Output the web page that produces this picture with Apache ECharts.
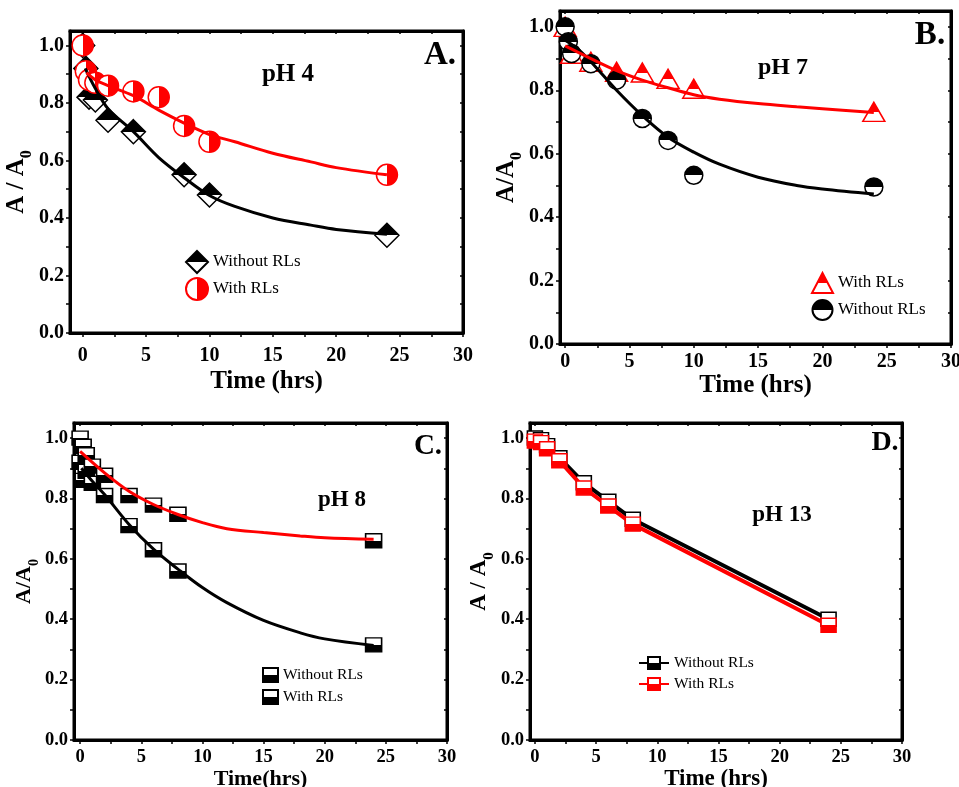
<!DOCTYPE html>
<html><head><meta charset="utf-8">
<script src="https://cdn.jsdelivr.net/npm/echarts@6/dist/echarts.min.js"></script>
<style>html,body{margin:0;padding:0;background:#fff}#c{width:959px;height:787px}</style>
</head><body><div id="c"></div>
<script>
// ---------------- DATA ----------------
const xTickLabels = [0, 5, 10, 15, 20, 25, 30];
const xTickMarks = [0, 2.5, 5, 7.5, 10, 12.5, 15, 17.5, 20, 22.5, 25, 27.5, 30];
const yTickLabels = [0, 0.2, 0.4, 0.6, 0.8, 1.0];
const yTickMarks = [0, 0.1, 0.2, 0.3, 0.4, 0.5, 0.6, 0.7, 0.8, 0.9, 1.0];

// Panel A (pH 4)
const aWithoutT = [0, 0.25, 0.5, 1, 2, 4, 8, 10, 24];
const aWithoutV = [1.0, 0.92, 0.82, 0.81, 0.74, 0.70, 0.55, 0.48, 0.34];
const aWithT = [0, 0.25, 0.5, 1, 2, 4, 6, 8, 10, 24];
const aWithV = [1.0, 0.91, 0.88, 0.87, 0.86, 0.84, 0.82, 0.72, 0.665, 0.55];
const aFitWithoutT = [0.2, 1, 2, 4, 6, 8, 10, 12, 15, 18, 20, 24];
const aFitWithoutV = [0.92, 0.85, 0.78, 0.70, 0.61, 0.54, 0.478, 0.44, 0.40, 0.375, 0.36, 0.343];
const aFitWithT = [0.3, 1, 2, 4, 6, 8, 10, 12, 15, 18, 20, 24];
const aFitWithV = [0.905, 0.88, 0.86, 0.825, 0.775, 0.73, 0.69, 0.665, 0.625, 0.595, 0.575, 0.55];

// Panel B (pH 7)
const bWithT = [0, 0.5, 2, 4, 6, 8, 10, 24];
const bWithV = [1.0, 0.915, 0.89, 0.858, 0.856, 0.836, 0.805, 0.732];
const bWithoutT = [0, 0.25, 0.5, 2, 4, 6, 8, 10, 24];
const bWithoutV = [1.0, 0.953, 0.916, 0.884, 0.832, 0.711, 0.642, 0.532, 0.495];
const bFitWithT = [0, 2, 4, 6, 8, 10, 12, 15, 18, 20, 24];
const bFitWithV = [0.94, 0.90, 0.862, 0.832, 0.808, 0.786, 0.772, 0.758, 0.748, 0.742, 0.73];
const bFitWithoutT = [0, 1, 2, 4, 6, 8, 10, 12, 15, 18, 20, 24];
const bFitWithoutV = [0.958, 0.93, 0.89, 0.80, 0.72, 0.652, 0.605, 0.567, 0.526, 0.50, 0.489, 0.473];

// Panel C (pH 8)
const cWithoutT = [0, 0.25, 0.5, 1, 2, 4, 6, 8, 24];
const cWithoutV = [0.92, 0.86, 0.89, 0.85, 0.81, 0.71, 0.63, 0.56, 0.315];
const cWithT = [0, 0.25, 0.5, 1, 2, 4, 6, 8, 24];
const cWithV = [1.0, 0.973, 0.945, 0.907, 0.877, 0.81, 0.778, 0.748, 0.66];
const cFitWithT = [0, 2, 4, 6, 8, 10, 12, 15, 18, 20, 24];
const cFitWithV = [0.956, 0.885, 0.824, 0.78, 0.747, 0.72, 0.70, 0.687, 0.676, 0.67, 0.665];
const cFitWithoutT = [0.1, 1, 2, 4, 6, 8, 10, 12, 15, 18, 20, 24];
const cFitWithoutV = [0.90, 0.857, 0.813, 0.714, 0.632, 0.566, 0.505, 0.455, 0.396, 0.355, 0.335, 0.313];

// Panel D (pH 13)
const dWithoutT = [0, 0.5, 1, 2, 4, 6, 8, 24];
const dWithoutV = [1.0, 0.995, 0.975, 0.935, 0.852, 0.791, 0.731, 0.40];
const dWithT = [0, 0.5, 1, 2, 4, 6, 8, 24];
const dWithV = [0.99, 0.985, 0.965, 0.925, 0.835, 0.775, 0.715, 0.38];

// ---------------- HELPERS ----------------
const FONT = 'Liberation Serif';
const RED = '#ff0000', BLACK = '#000000';
function pairs(t, v) { return t.map((x, i) => [x, v[i]]); }
function halfFill(vertical, c1, c2) {
  return { type: 'linear', x: 0, y: 0, x2: vertical ? 0 : 1, y2: vertical ? 1 : 0,
    colorStops: [{offset: 0, color: c1}, {offset: 0.5, color: c1}, {offset: 0.5, color: c2}, {offset: 1, color: c2}] };
}
const stripName = n => n.split('|')[1];

const grids = [], xAxes = [], yAxes = [], series = [], legends = [], graphics = [];

function addPanel(p) {
  const gi = grids.length;
  grids.push(Object.assign({ show: true, borderColor: '#000', borderWidth: 3, outerBoundsMode: 'none', containLabel: false }, p.grid));
  const lab = { fontFamily: FONT, fontWeight: 'bold', fontSize: p.tickFont, color: '#000' };
  xAxes.push({
    gridIndex: gi, type: 'value', min: p.xMin, max: 30, position: 'bottom',
    name: p.xName, nameLocation: 'middle', nameGap: p.xGap,
    nameTextStyle: { fontFamily: FONT, fontWeight: 'bold', fontSize: p.nameFont, color: '#000' },
    axisLine: { show: true, onZero: false, lineStyle: { color: '#000', width: 3 } },
    axisTick: { show: true, length: 4, customValues: xTickMarks, lineStyle: { width: 1.5, color: '#000' } },
    axisLabel: Object.assign({ customValues: xTickLabels, margin: p.xMargin }, lab),
    splitLine: { show: false }
  });
  xAxes.push({
    gridIndex: gi, type: 'value', min: p.xMin, max: 30, position: 'top',
    axisLine: { show: true, onZero: false, lineStyle: { color: '#000', width: 3 } },
    axisTick: { show: true, inside: true, length: 3, customValues: xTickMarks, lineStyle: { width: 1.5, color: '#000' } },
    axisLabel: { show: false }, splitLine: { show: false }
  });
  yAxes.push({
    gridIndex: gi, type: 'value', min: 0, max: 1.05, position: 'left',
    name: p.yName, nameLocation: 'middle', nameGap: p.yGap, nameRotate: 90,
    nameTextStyle: { fontFamily: FONT, fontWeight: 'bold', fontSize: p.nameFont, color: '#000',
      rich: { sub: { fontFamily: FONT, fontWeight: 'bold', fontSize: Math.round(p.nameFont * 0.65), verticalAlign: 'bottom', padding: [0, 0, -6, 0], color: '#000' } } },
    axisLine: { show: true, onZero: false, lineStyle: { color: '#000', width: 3 } },
    axisTick: { show: true, length: 4, customValues: yTickMarks, lineStyle: { width: 1.5, color: '#000' } },
    axisLabel: Object.assign({ customValues: yTickLabels, margin: 6, formatter: v => v.toFixed(1) }, lab),
    splitLine: { show: false }
  });
  yAxes.push({
    gridIndex: gi, type: 'value', min: 0, max: 1.05, position: 'right',
    axisLine: { show: true, onZero: false, lineStyle: { color: '#000', width: 3 } },
    axisTick: { show: true, inside: true, length: 3, customValues: yTickMarks, lineStyle: { width: 1.5, color: '#000' } },
    axisLabel: { show: false }, splitLine: { show: false }
  });
  const xi = gi * 2, yi = gi * 2;
  p.series.forEach(s => {
    s.xAxisIndex = xi; s.yAxisIndex = yi;
    series.push(s);
  });
  legends.push(Object.assign({
    orient: 'vertical', selectedMode: false, formatter: stripName,
    textStyle: { fontFamily: FONT, fontSize: p.legendFont, color: '#000', lineHeight: p.legendFont }
  }, p.legend));
  graphics.push({ type: 'text', x: p.ph[1], y: p.ph[2],
    style: { text: p.ph[0], font: 'bold ' + p.phFont + 'px "' + FONT + '"', fill: '#000', align: 'center', verticalAlign: 'middle', textAlign: 'center', textVerticalAlign: 'middle' } });
  graphics.push({ type: 'text', x: p.letter[1], y: p.letter[2],
    style: { text: p.letter[0], font: 'bold ' + p.letterFont + 'px "' + FONT + '"', fill: '#000', align: 'center', verticalAlign: 'middle', textAlign: 'center', textVerticalAlign: 'middle' } });
}

function scatter(name, t, v, symbol, size, fill, border, z) {
  return { name, type: 'scatter', data: pairs(t, v), symbol, symbolSize: size, z: z || 3,
    itemStyle: { color: fill, borderColor: border, borderWidth: 1.5, opacity: 1 }, emphasis: { disabled: true } };
}
function fit(name, t, v, color, z) {
  return { name, type: 'line', data: pairs(t, v), smooth: 0.35, showSymbol: false, symbol: 'none', z: z || 4,
    lineStyle: { color, width: 3 }, itemStyle: { color }, emphasis: { disabled: true } };
}

// Panel A
addPanel({
  grid: { left: 70, top: 31, width: 393, height: 302 }, xMin: -1,
  tickFont: 20, nameFont: 25, xName: 'Time (hrs)', yName: 'A / A{sub|0}', xGap: 36, yGap: 36, xMargin: 13,
  series: [
    scatter('A|Without RLs', aWithoutT, aWithoutV, 'diamond', [24, 24], halfFill(true, BLACK, '#fff'), BLACK, 3),
    scatter('A|With RLs', aWithT, aWithV, 'circle', 21, halfFill(false, '#fff', RED), RED, 4),
    fit('A|fit without', aFitWithoutT, aFitWithoutV, BLACK, 5),
    fit('A|fit with', aFitWithT, aFitWithV, RED, 6)
  ],
  legend: { data: ['A|Without RLs', 'A|With RLs'], left: 180, top: 245, itemWidth: 22, itemHeight: 22, itemGap: 3 },
  legendFont: 17,
  ph: ['pH 4', 288, 75], phFont: 25, letter: ['A.', 440, 55], letterFont: 33
});

// Panel B
addPanel({
  grid: { left: 560, top: 11, width: 391, height: 333 }, xMin: -0.4,
  tickFont: 20, nameFont: 25, xName: 'Time (hrs)', yName: 'A/A{sub|0}', xGap: 26, yGap: 36, xMargin: 8,
  series: [
    scatter('B|With RLs', bWithT, bWithV, 'triangle', [22, 19], halfFill(true, RED, '#fff'), RED, 3),
    scatter('B|Without RLs', bWithoutT, bWithoutV, 'circle', 18, halfFill(true, BLACK, '#fff'), BLACK, 4),
    fit('B|fit without', bFitWithoutT, bFitWithoutV, BLACK, 5),
    fit('B|fit with', bFitWithT, bFitWithV, RED, 6)
  ],
  legend: { data: ['B|With RLs', 'B|Without RLs'], left: 806, top: 267, itemWidth: 21, itemHeight: 20, itemGap: 5 },
  legendFont: 17,
  ph: ['pH 7', 783, 68], phFont: 24, letter: ['B.', 930, 35], letterFont: 33
});

// Panel C
addPanel({
  grid: { left: 74, top: 423, width: 373, height: 317 }, xMin: -0.5,
  tickFont: 18.5, nameFont: 22, xName: 'Time(hrs)', yName: 'A/A{sub|0}', xGap: 24, yGap: 34, xMargin: 8,
  series: [
    scatter('C|Without RLs', cWithoutT, cWithoutV, 'rect', [16, 14], halfFill(true, '#fff', BLACK), BLACK, 3),
    scatter('C|With RLs', cWithT, cWithV, 'rect', [16, 14], halfFill(true, '#fff', BLACK), BLACK, 4),
    fit('C|fit without', cFitWithoutT, cFitWithoutV, BLACK, 5),
    fit('C|fit with', cFitWithT, cFitWithV, RED, 6)
  ],
  legend: { data: ['C|Without RLs', 'C|With RLs'], left: 257, top: 662, itemWidth: 15, itemHeight: 14, itemGap: 6 },
  legendFont: 15.5,
  ph: ['pH 8', 342, 500], phFont: 23, letter: ['C.', 428, 447], letterFont: 29
});

// Panel D
addPanel({
  grid: { left: 530, top: 423, width: 372, height: 317 }, xMin: -0.4,
  tickFont: 18.5, nameFont: 23, xName: 'Time (hrs)', yName: 'A / A{sub|0}', xGap: 24, yGap: 33, xMargin: 8,
  series: [
    { name: 'D|Without RLs', type: 'line', data: pairs(dWithoutT, dWithoutV), symbol: 'rect', symbolSize: [15, 14], z: 3,
      lineStyle: { color: BLACK, width: 4 }, itemStyle: { color: halfFill(true, '#fff', BLACK), borderColor: BLACK, borderWidth: 1.5 }, emphasis: { disabled: true } },
    { name: 'D|With RLs', type: 'line', data: pairs(dWithT, dWithV), symbol: 'rect', symbolSize: [15, 14], z: 4,
      lineStyle: { color: RED, width: 4 }, itemStyle: { color: halfFill(true, '#fff', RED), borderColor: RED, borderWidth: 1.5 }, emphasis: { disabled: true } }
  ],
  legend: { data: ['D|Without RLs', 'D|With RLs'], left: 633, top: 650, itemWidth: 30, itemHeight: 15, itemGap: 5 },
  legendFont: 15.5,
  ph: ['pH 13', 782, 515], phFont: 23, letter: ['D.', 885, 443], letterFont: 28
});

const chart = echarts.init(document.getElementById('c'), null, { renderer: 'canvas' });
chart.setOption({
  backgroundColor: '#fff', animation: false,
  grid: grids, xAxis: xAxes, yAxis: yAxes, series: series, legend: legends,
  graphic: { elements: graphics }
});
</script></body></html>
